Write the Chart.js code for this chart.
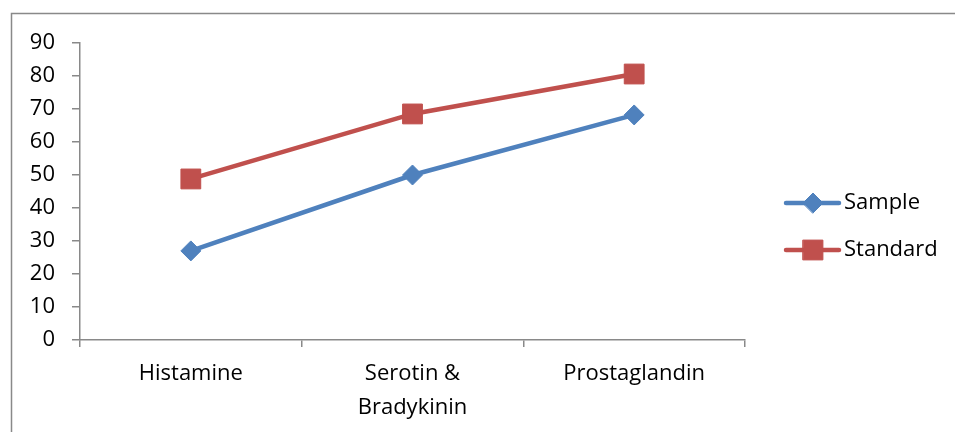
<!DOCTYPE html>
<html>
<head>
<meta charset="utf-8">
<script src="https://cdn.jsdelivr.net/npm/chart.js@4/dist/chart.umd.min.js"></script>
<style>
  html, body { margin: 0; padding: 0; background: #ffffff; }
  #wrap { position: relative; width: 955px; height: 432px; }
</style>
</head>
<body>
<div id="wrap"><canvas id="chart" width="955" height="432"></canvas></div>
<script>
// Mediator categories and measured responses
const categories = ['Histamine', ['Serotin &', 'Bradykinin'], 'Prostaglandin'];
const sampleValues = [27, 50, 68.2];
const standardValues = [48.8, 68.5, 80.6];
const yTicks = [0, 10, 20, 30, 40, 50, 60, 70, 80, 90];

const FONT = '"Open Sans", "Noto Sans", "DejaVu Sans", sans-serif';
const AXIS_GRAY = '#898989';

// Outer frame of the chart object (top and left edges)
const framePlugin = {
  id: 'frame',
  beforeDraw(chart) {
    const ctx = chart.ctx;
    ctx.save();
    ctx.strokeStyle = AXIS_GRAY;
    ctx.lineWidth = 1.5;
    ctx.beginPath();
    ctx.moveTo(11.5, 432);
    ctx.lineTo(11.5, 13.5);
    ctx.lineTo(955, 13.5);
    ctx.stroke();
    ctx.restore();
  }
};

// Legend on the right: line segment with the series marker, then the name
const sideLegend = {
  id: 'sideLegend',
  afterDraw(chart) {
    const ctx = chart.ctx;
    const rows = [203, 250];
    chart.data.datasets.forEach((ds, i) => {
      const y = rows[i];
      ctx.save();
      ctx.strokeStyle = ds.borderColor;
      ctx.lineWidth = ds.borderWidth;
      ctx.lineCap = 'round';
      ctx.beginPath();
      ctx.moveTo(786, y);
      ctx.lineTo(839, y);
      ctx.stroke();
      ctx.fillStyle = ds.pointBackgroundColor;
      ctx.strokeStyle = ds.pointBorderColor;
      ctx.lineWidth = ds.pointBorderWidth;
      Chart.helpers.drawPoint(ctx, {
        pointStyle: ds.pointStyle,
        radius: ds.pointRadius,
        rotation: 0,
        borderWidth: ds.pointBorderWidth
      }, 813, y);
      ctx.fillStyle = '#000000';
      ctx.font = '22px ' + FONT;
      ctx.textBaseline = 'middle';
      ctx.textAlign = 'left';
      ctx.fillText(ds.label, 844, y);
      ctx.restore();
    });
  }
};

new Chart(document.getElementById('chart'), {
  type: 'line',
  data: {
    labels: categories,
    datasets: [
      {
        label: 'Sample',
        data: sampleValues,
        borderColor: '#4F81BD',
        backgroundColor: '#4F81BD',
        borderWidth: 4.5,
        pointStyle: 'rectRot',
        pointRadius: 10,
        pointHoverRadius: 10,
        pointBackgroundColor: '#4F81BD',
        pointBorderColor: '#4F81BD',
        pointBorderWidth: 1,
        tension: 0
      },
      {
        label: 'Standard',
        data: standardValues,
        borderColor: '#C0504D',
        backgroundColor: '#C0504D',
        borderWidth: 4.5,
        pointStyle: 'rect',
        pointRadius: 14,
        pointHoverRadius: 14,
        pointBackgroundColor: '#C0504D',
        pointBorderColor: '#C0504D',
        pointBorderWidth: 1,
        tension: 0
      }
    ]
  },
  options: {
    responsive: false,
    animation: false,
    events: [],
    layout: { padding: { left: 0, top: 43, right: 210, bottom: 0 } },
    plugins: {
      legend: { display: false },
      tooltip: { enabled: false }
    },
    scales: {
      x: {
        type: 'category',
        offset: true,
        afterFit(scale) { scale.height = 92; },
        border: { display: true, color: AXIS_GRAY, width: 1.5 },
        grid: {
          offset: true,
          drawOnChartArea: false,
          drawTicks: true,
          tickLength: 7,
          color: AXIS_GRAY,
          lineWidth: 1.5
        },
        ticks: {
          color: '#000000',
          font: { family: FONT, size: 22, lineHeight: 1.55 },
          padding: 10,
          maxRotation: 0,
          autoSkip: false
        }
      },
      y: {
        min: 0,
        max: 90,
        afterFit(scale) { scale.width = 80; },
        afterBuildTicks(scale) { scale.ticks = yTicks.map(v => ({ value: v })); },
        border: { display: true, color: AXIS_GRAY, width: 1.5 },
        grid: {
          drawOnChartArea: false,
          drawTicks: true,
          tickLength: 8,
          color: AXIS_GRAY,
          lineWidth: 1.5
        },
        ticks: {
          color: '#000000',
          font: { family: FONT, size: 22 },
          padding: 17
        }
      }
    }
  },
  plugins: [framePlugin, sideLegend]
});
</script>
</body>
</html>
